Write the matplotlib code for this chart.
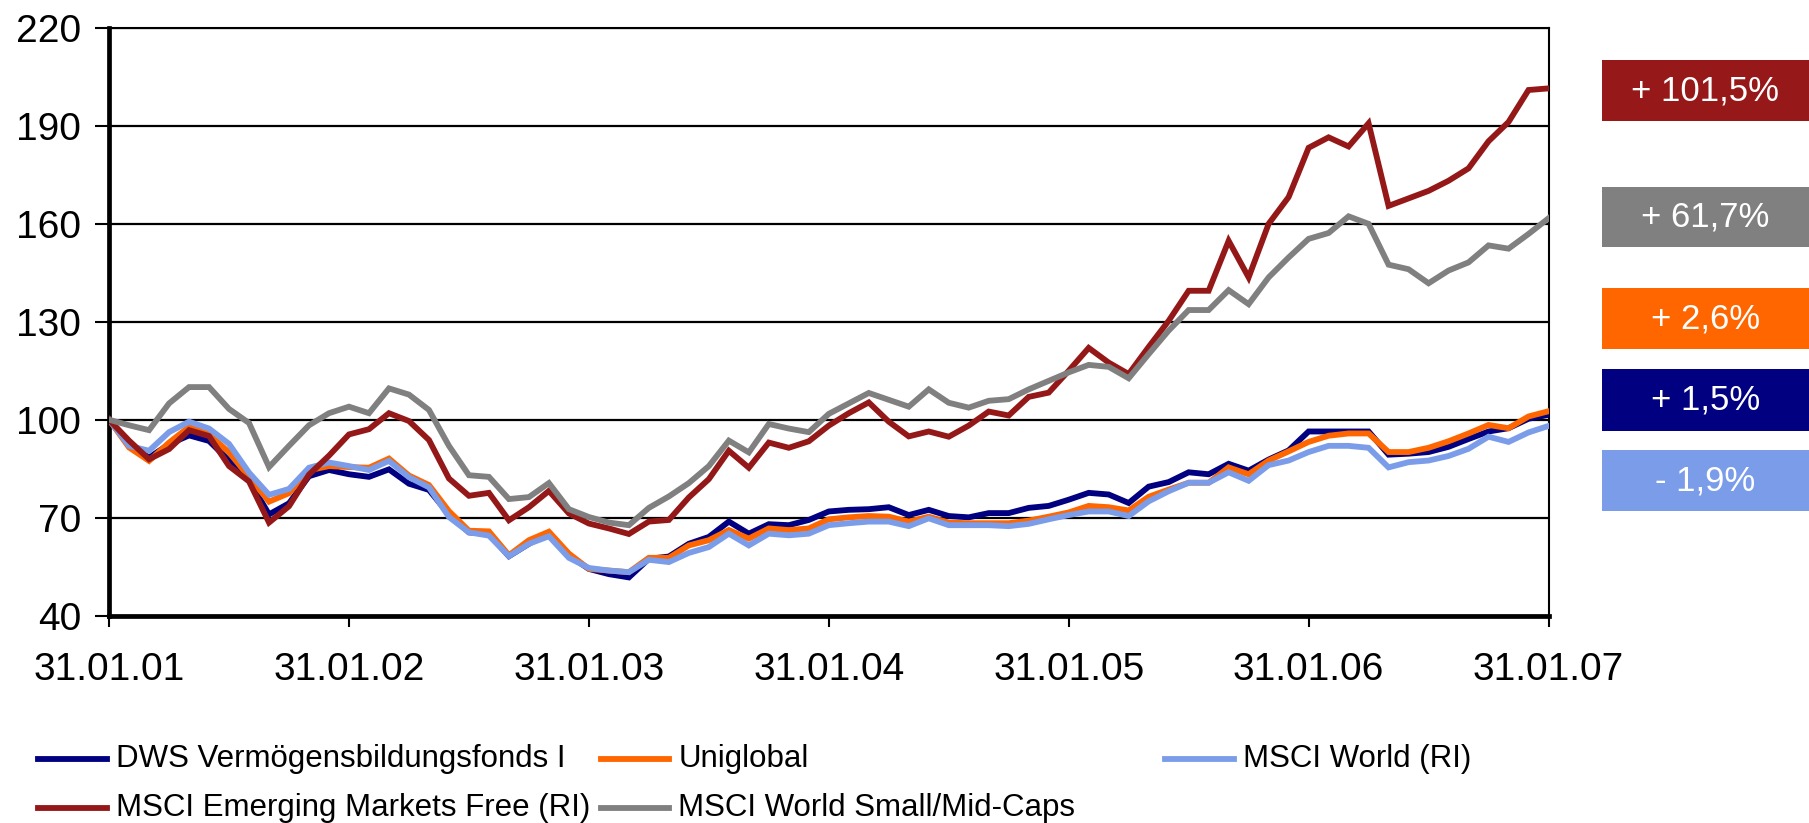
import matplotlib
matplotlib.use("Agg")
import matplotlib.pyplot as plt
from matplotlib.lines import Line2D
from matplotlib.patches import Rectangle

plt.rcParams['font.family'] = ['Liberation Sans', 'DejaVu Sans']

# month index 0..72 (31.01.01 .. 31.01.07)
tick_labels = ["31.01.01", "31.01.02", "31.01.03", "31.01.04", "31.01.05", "31.01.06", "31.01.07"]

dws = [100, 92.5, 88.4, 92.5, 95.2, 93.5, 87.5, 81.5, 71, 74.4, 82.7, 84.6, 83.3,
       82.5, 84.8, 80.4, 78.5, 71, 65.5, 65, 58.2, 62, 65.2, 58.4, 54.3,
       52.7, 51.7, 57.4, 58.1, 62, 64.1, 68.8, 65.1, 68, 67.7, 69.3, 71.9,
       72.4, 72.6, 73.2, 70.8, 72.4, 70.5, 70.1, 71.4, 71.4, 73, 73.6, 75.5,
       77.6, 77.1, 74.5, 79.5, 80.9, 83.9, 83.3, 86.5, 84.4, 87.8, 90.6, 96.4,
       96.4, 96.4, 96.4, 89.3, 89.6, 90.1, 91.7, 94.1, 96.4, 97.4, 100.3, 101.5]

uniglobal = [100, 91.5, 87.4, 93, 97.8, 95.5, 90, 82.5, 74.9, 77.5, 84.5, 85.8, 85.5,
             85.3, 88.1, 82.9, 80, 72, 66, 65.8, 58.5, 63.1, 65.7, 59, 54.3,
             53.8, 53.3, 57.7, 57.7, 61.5, 63.1, 66.2, 63.6, 66.7, 66.2, 66.7, 69.5,
             70.1, 70.5, 70.3, 68.8, 70.3, 68.5, 68.3, 68.3, 68.3, 69.1, 70.3, 71.6,
             73.6, 73.2, 72.2, 76.4, 78.6, 80.7, 80.7, 85.4, 83.3, 87.5, 90.3, 93.2,
             95.1, 95.8, 95.8, 90.1, 90.1, 91.4, 93.4, 95.8, 98.4, 97.4, 101, 102.6]

msci_world = [100, 92, 90.5, 96.2, 99.4, 97.3, 92.6, 83.8, 77, 78.8, 85.3, 86.9, 85.8,
              84.6, 87.4, 82.4, 79.3, 70.2, 65.5, 64.5, 58.2, 62, 64.3, 57.7, 54.6,
              53.8, 53.3, 57.1, 56.4, 59.2, 61, 65.1, 61.5, 65.1, 64.6, 65.1, 67.7,
              68.3, 68.8, 68.8, 67.4, 69.8, 67.7, 67.7, 67.7, 67.4, 68.1, 69.5, 70.8,
              71.9, 71.9, 70.5, 75, 78.1, 80.7, 80.7, 83.9, 81.3, 86.1, 87.5, 90.1,
              92, 92, 91.4, 85.4, 87, 87.5, 88.9, 91.1, 94.8, 93.2, 96.1, 98.1]

msci_em = [100, 93.6, 87.9, 91, 96.8, 95, 85.8, 81.1, 68.5, 73.5, 83.2, 89, 95.5,
           97.1, 102, 99.6, 93.8, 82, 76.7, 77.6, 69.2, 73.2, 78.2, 71.3, 68.2,
           66.7, 65, 68.8, 69.3, 76.2, 81.8, 90.5, 85.3, 93, 91.4, 93.4, 98.2,
           102, 105.3, 99.4, 94.9, 96.4, 94.8, 98.2, 102.5, 101.3, 107, 108.3, 115,
           122, 117.5, 114, 122.3, 130.3, 139.5, 139.5, 154.8, 143.6, 160, 168.2, 183.3,
           186.5, 183.7, 190.8, 165.5, 167.8, 170.1, 173.2, 177, 185.3, 191.2, 201, 201.5]

msci_small_mid = [100, 98.3, 96.8, 105, 110, 110, 103.3, 99, 85.5, 92, 98.3, 102, 104,
                  102, 109.6, 107.7, 103, 92, 83, 82.5, 75.7, 76.3, 80.6, 72.6, 70.2,
                  68.5, 67.7, 73, 76.5, 80.6, 85.8, 93.6, 90, 98.7, 97.3, 96.2, 101.8,
                  105, 108.2, 106.1, 104, 109.3, 105.2, 103.7, 105.8, 106.3, 109.3, 111.9, 114.5,
                  116.8, 116.2, 112.7, 120.1, 127.3, 133.6, 133.6, 139.7, 135.4, 143.6, 149.7, 155.4,
                  157.2, 162.3, 160, 147.5, 146.1, 141.8, 145.7, 148.2, 153.4, 152.4, 156.9, 161.7]

series_names = ["DWS Vermögensbildungsfonds I", "Uniglobal", "MSCI World (RI)",
                "MSCI Emerging Markets Free (RI)", "MSCI World Small/Mid-Caps"]
series_colors = ["#000080", "#FF6600", "#7B9DE9", "#951818", "#808080"]
perf_labels = ["+ 101,5%", "+ 61,7%", "+ 2,6%", "+ 1,5%", "- 1,9%"]
perf_colors = ["#971818", "#808080", "#FF6600", "#000080", "#7B9DE9"]

all_series = [dws, uniglobal, msci_world, msci_em, msci_small_mid]
x = list(range(len(dws)))

fig = plt.figure(figsize=(18.09, 8.23), dpi=100)
ax = fig.add_axes([0.0603, 0.252, 0.7957, 0.714])

for s, c in zip(all_series, series_colors):
    ax.plot(x, s, color=c, lw=4.2, solid_joinstyle='miter', zorder=3)

ax.set_xlim(0, 72)
ax.set_ylim(40, 220)
ax.set_yticks(range(40, 221, 30))
ax.set_xticks(range(0, 73, 12))
ax.set_xticklabels(tick_labels)
ax.yaxis.grid(True, color='black', lw=1.6, zorder=1)
ax.set_axisbelow(True)

for side in ['left', 'bottom']:
    ax.spines[side].set_linewidth(3.4)
for side in ['right', 'top']:
    ax.spines[side].set_linewidth(1.5)

ax.tick_params(axis='y', direction='out', length=10, width=1.5, pad=10, labelsize=28)
ax.tick_params(axis='x', direction='out', length=8, width=1.5, pad=18, labelsize=28)

# performance boxes
box_x0 = 0.8855
box_specs = [(0.853, 0.927), (0.700, 0.773), (0.576, 0.650), (0.476, 0.552), (0.379, 0.453)]
for (y0, y1), lab, col in zip(box_specs, perf_labels, perf_colors):
    fig.patches.append(Rectangle((box_x0, y0), 1.0 - box_x0, y1 - y0,
                                 transform=fig.transFigure, facecolor=col,
                                 edgecolor='none'))
    fig.text((box_x0 + 1.0) / 2, (y0 + y1) / 2, lab, color='white', fontsize=25,
             ha='center', va='center')

# legend (manual, three equally spaced columns)
legend_pos = [(0.0212, 0.0775), (0.332, 0.0775), (0.644, 0.0775),
              (0.0212, 0.018), (0.332, 0.018)]
for (lx, ly), name, col in zip(legend_pos, series_names, series_colors):
    fig.add_artist(Line2D([lx, lx + 0.038], [ly, ly], transform=fig.transFigure,
                          color=col, lw=4.2))
    fig.text(lx + 0.043, ly, name, fontsize=22.5, ha='left', va='center')

fig.savefig("out.png", dpi=100)
